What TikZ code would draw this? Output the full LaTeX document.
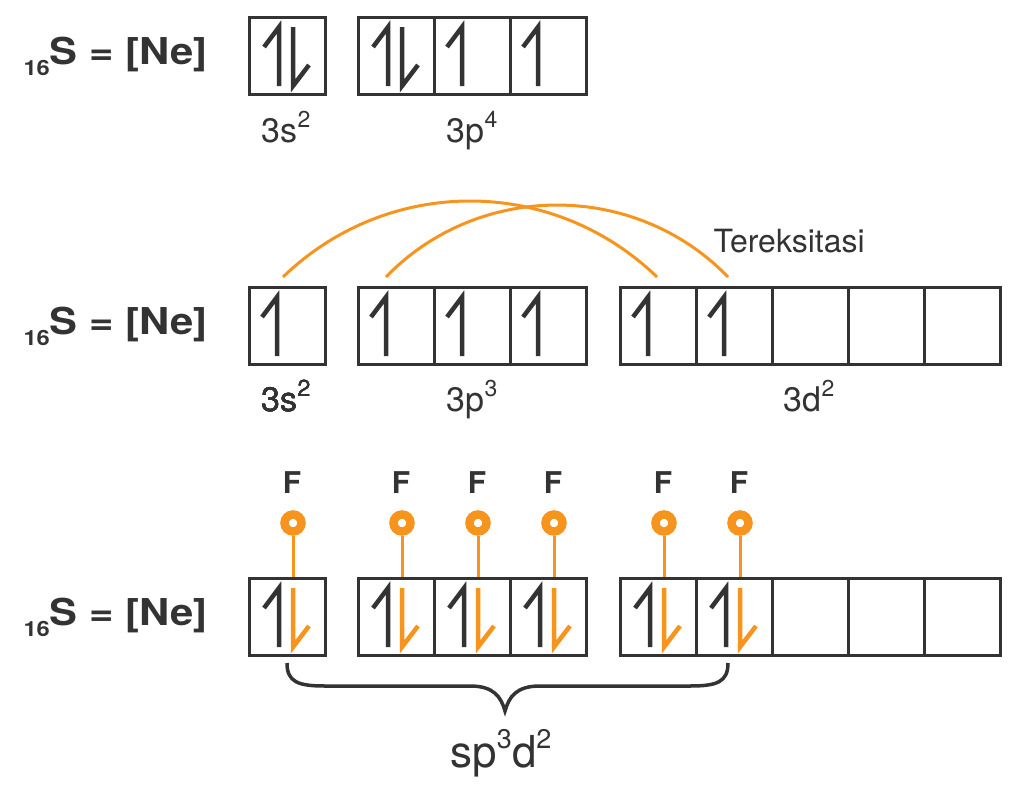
\documentclass[tikz,border=0pt]{standalone}
\usepackage{fontspec}
\setmainfont{TeX Gyre Heros}
\newfontfamily\lebar{TeX Gyre Heros}[FakeStretch=1.13]
\usetikzlibrary{calc}
\definecolor{ink}{HTML}{333333}
\definecolor{jingga}{HTML}{F7941D}
\newcommand{\ukuran}[1]{\fontsize{#1}{#1}\selectfont}
\newcommand{\pangkat}[2][23]{\raisebox{0.43em}{\ukuran{#1}#2}}
\newcommand{\elup}[3][ink]{\draw[spin,#1] ($(#2)+(#3-15,9)$) -- ($(#2)+(#3,29)$) -- ($(#2)+(#3,-30)$);}
\newcommand{\eldown}[2][ink]{\draw[spin,#1] ($(#2)+(6,29)$) -- ($(#2)+(6,-30)$) -- ($(#2)+(22,-9)$);}
\begin{document}
\begin{tikzpicture}[x=1pt, y=1pt, line join=miter,
	orb/.style={draw=ink, line width=3pt, minimum width=76pt, minimum height=77pt, inner sep=0pt},
	spin/.style={line width=4.5pt},
	judul/.style={font=\lebar\bfseries\ukuran{37}, text=ink, anchor=base west},
	tulisan/.style={font=\ukuran{34}, text=ink, anchor=base},
	fbulat/.style={circle, draw=jingga, fill=white, line width=8.5pt, minimum size=17pt, inner sep=0pt}]
	\useasboundingbox (0,0) rectangle (1023,-795);
	\foreach \r/\y in {a/56,b/326,c/617}{
		\node[orb] (\r-s) at (287,-\y) {};
		\foreach \i/\x in {1/396,2/472,3/548} \node[orb] (\r-p\i) at (\x,-\y) {};
		\node[judul] (\r-nama) at (20,-\y-8) {\raisebox{-11pt}{\ukuran{21}16}S = [Ne]};
	}
	\foreach \r/\y in {b/326,c/617}
		\foreach \i/\x in {1/658,2/734,3/810,4/886,5/962} \node[orb] (\r-d\i) at (\x,-\y) {};

	\elup{a-s}{-8} \eldown{a-s}
	\elup{a-p1}{-8} \eldown{a-p1}
	\elup{a-p2}{-10} \elup{a-p3}{-10}
	\node[tulisan] (a-ket1) at (286,-142) {3s\pangkat{2}};
	\node[tulisan] (a-ket2) at (472,-142) {3p\pangkat{4}};

	\foreach \n in {b-s,b-p1,b-p2,b-p3,b-d1,b-d2} \elup{\n}{-10}
	\node[tulisan] (b-ket1) at (286,-411) {3s\pangkat{2}};
	\node[tulisan] (b-ket2) at (472,-411) {3p\pangkat{3}};
	\node[tulisan] (b-ket3) at (809,-411) {3d\pangkat{2}};
	\coordinate (lompat1) at ($(b-s.north)+(-4,9)$);
	\coordinate (lompat2) at ($(b-d1.north)+(-1,9)$);
	\coordinate (lompat3) at ($(b-p1.north)+(-10,9)$);
	\coordinate (lompat4) at ($(b-d2.north)+(-6,9)$);
	\draw[jingga, line width=3pt] (lompat1) to[bend left=44] (lompat2);
	\draw[jingga, line width=3pt] (lompat3) to[bend left=46] (lompat4);
	\node[font=\ukuran{32}, text=ink, anchor=base west] (tereks) at (710,-252) {Tereksitasi};

	\foreach \n [count=\k] in {c-s,c-p1,c-p2,c-p3,c-d1,c-d2}{
		\elup{\n}{-8} \eldown[jingga]{\n}
		\node[fbulat] (f\k) at ($(\n.north)+(6,54)$) {};
		\node[font=\bfseries\ukuran{30}, text=ink, anchor=base] (fl\k) at ($(f\k)+(-1,30)$) {F};
		\draw[jingga, line width=3pt] (f\k) -- ($(\n.north)+(6,0)$);
	}
	\draw[ink, line width=3.5pt] (287,-663) .. controls (287,-682) and (298,-686) .. (325,-686) -- (470,-686)
		.. controls (494,-686) and (501,-697) .. (505,-711) .. controls (509,-697) and (516,-686) .. (540,-686)
		-- (690,-686) .. controls (717,-686) and (728,-682) .. (728,-663);
	\node[font=\ukuran{44}, text=ink, anchor=base] (hibrid) at (501,-767) {sp\pangkat[27]{3}d\pangkat[27]{2}};
\end{tikzpicture}
\end{document}
